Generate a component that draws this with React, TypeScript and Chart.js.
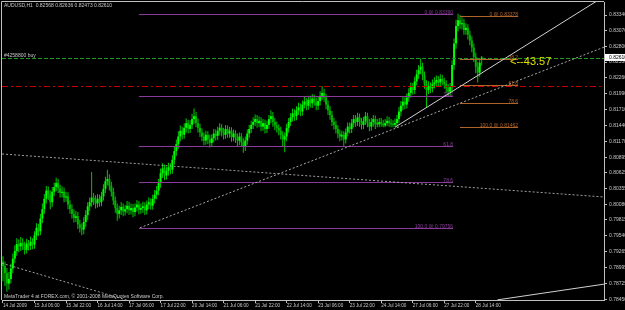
import { useEffect, useRef } from "react";
import { Chart, registerables } from "chart.js";

Chart.register(...registerables);

const FONT = "'Liberation Sans', 'DejaVu Sans', sans-serif";

// ---- data (AUDUSD H1) ----
const opens = [
  0.7910,0.7902,0.7890,0.7872,0.7880,0.7898,0.7915,0.7928,0.7940,0.7936,
  0.7942,0.7938,0.7930,0.7941,0.7937,0.7944,0.7939,0.7955,0.7968,0.7962,
  0.7984,0.8000,0.8018,0.8032,0.8025,0.8012,0.8030,0.8038,0.8045,0.8036,
  0.8028,0.8030,0.8020,0.8022,0.8008,0.8000,0.7992,0.7985,0.7988,0.7974,
  0.7968,0.7965,0.7978,0.7990,0.8005,0.8012,0.8020,0.8015,0.8010,0.8018,
  0.8012,0.8022,0.8035,0.8048,0.8052,0.8040,0.8030,0.8015,0.8002,0.7992,
  0.7998,0.8004,0.7996,0.8000,0.8006,0.7998,0.8002,0.7995,0.8003,0.8008,
  0.7999,0.8002,0.8005,0.7998,0.8008,0.8012,0.8006,0.8018,0.8025,0.8032,
  0.8045,0.8062,0.8070,0.8058,0.8066,0.8072,0.8068,0.8085,0.8100,0.8112,
  0.8125,0.8135,0.8128,0.8140,0.8148,0.8138,0.8145,0.8155,0.8160,0.8148,
  0.8140,0.8132,0.8125,0.8118,0.8128,0.8120,0.8114,0.8122,0.8130,0.8126,
  0.8135,0.8140,0.8132,0.8128,0.8138,0.8130,0.8135,0.8124,0.8130,0.8122,
  0.8118,0.8125,0.8115,0.8108,0.8118,0.8130,0.8138,0.8145,0.8150,0.8155,
  0.8148,0.8152,0.8142,0.8148,0.8138,0.8145,0.8155,0.8160,0.8150,0.8144,
  0.8140,0.8135,0.8128,0.8120,0.8125,0.8140,0.8150,0.8158,0.8165,0.8160,
  0.8170,0.8175,0.8168,0.8180,0.8185,0.8178,0.8188,0.8182,0.8190,0.8185,
  0.8178,0.8186,0.8195,0.8200,0.8192,0.8180,0.8170,0.8162,0.8150,0.8145,
  0.8138,0.8130,0.8125,0.8128,0.8120,0.8132,0.8142,0.8138,0.8148,0.8155,
  0.8150,0.8158,0.8150,0.8145,0.8152,0.8160,0.8148,0.8142,0.8150,0.8155,
  0.8146,0.8146,0.8150,0.8147,0.8144,0.8148,0.8152,0.8148,0.8146,0.8145,
  0.8148,0.8155,0.8168,0.8178,0.8185,0.8180,0.8192,0.8200,0.8210,0.8205,
  0.8220,0.8232,0.8240,0.8245,0.8230,0.8215,0.8205,0.8212,0.8208,0.8215,
  0.8218,0.8222,0.8218,0.8224,0.8220,0.8215,0.8208,0.8202,0.8210,0.8248,
  0.8285,0.8315,0.8325,0.8318,0.8320,0.8308,0.8312,0.8300,0.8290,0.8278,
  0.8262,0.8245,0.8235,0.82568,
];
const highs = [
  0.7919,0.7910,0.7899,0.7892,0.7906,0.7924,0.7938,0.7950,0.7948,0.7952,
  0.7950,0.7944,0.7949,0.7947,0.7953,0.7950,0.7962,0.7976,0.7975,0.7992,
  0.8010,0.8026,0.8040,0.8039,0.8032,0.8038,0.8046,0.8054,0.8052,0.8042,
  0.8039,0.8037,0.8030,0.8029,0.8015,0.8008,0.8000,0.7997,0.7995,0.7982,
  0.7976,0.7986,0.7998,0.8012,0.8020,0.8064,0.8028,0.8024,0.8026,0.8025,
  0.8030,0.8043,0.8056,0.8068,0.8060,0.8047,0.8037,0.8022,0.8010,0.8006,
  0.8012,0.8010,0.8007,0.8014,0.8013,0.8010,0.8009,0.8010,0.8016,0.8014,
  0.8010,0.8013,0.8012,0.8015,0.8020,0.8019,0.8025,0.8033,0.8040,0.8052,
  0.8070,0.8079,0.8077,0.8073,0.8080,0.8079,0.8093,0.8108,0.8120,0.8134,
  0.8144,0.8142,0.8148,0.8156,0.8154,0.8153,0.8164,0.8173,0.8167,0.8156,
  0.8147,0.8139,0.8132,0.8135,0.8134,0.8128,0.8129,0.8138,0.8137,0.8142,
  0.8148,0.8146,0.8140,0.8145,0.8144,0.8142,0.8141,0.8137,0.8136,0.8130,
  0.8132,0.8131,0.8122,0.8125,0.8137,0.8145,0.8152,0.8158,0.8163,0.8162,
  0.8160,0.8158,0.8155,0.8154,0.8152,0.8162,0.8170,0.8167,0.8157,0.8151,
  0.8146,0.8142,0.8134,0.8132,0.8147,0.8157,0.8165,0.8173,0.8172,0.8177,
  0.8183,0.8182,0.8187,0.8193,0.8191,0.8195,0.8195,0.8198,0.8197,0.8192,
  0.8193,0.8203,0.8212,0.8207,0.8198,0.8187,0.8177,0.8169,0.8157,0.8152,
  0.8144,0.8137,0.8135,0.8134,0.8139,0.8149,0.8149,0.8155,0.8162,0.8162,
  0.8166,0.8164,0.8157,0.8159,0.8167,0.8166,0.8155,0.8157,0.8162,0.8161,
  0.8155,0.8157,0.8157,0.8154,0.8155,0.8160,0.8159,0.8155,0.8153,0.8156,
  0.8162,0.8176,0.8186,0.8193,0.8192,0.8199,0.8208,0.8218,0.8217,0.8228,
  0.8240,0.8248,0.8259,0.8252,0.8237,0.8222,0.8220,0.8218,0.8223,0.8227,
  0.8230,0.8229,0.8232,0.8231,0.8226,0.8222,0.8215,0.8217,0.8256,0.8294,
  0.8326,0.8336,0.8334,0.8330,0.8327,0.8320,0.8318,0.8307,0.8297,0.8285,
  0.8269,0.8253,0.8259,0.82636,
];
const lows = [
  0.7876,0.7868,0.7858,0.7862,0.7872,0.7890,0.7907,0.7920,0.7926,0.7928,
  0.7930,0.7922,0.7924,0.7929,0.7930,0.7931,0.7932,0.7947,0.7954,0.7955,
  0.7976,0.7992,0.8010,0.8016,0.8000,0.8004,0.8023,0.8031,0.8028,0.8020,
  0.8020,0.8012,0.8013,0.8000,0.7992,0.7984,0.7977,0.7978,0.7966,0.7960,
  0.7955,0.7957,0.7970,0.7982,0.7997,0.8004,0.8007,0.8001,0.8003,0.8004,
  0.8005,0.8015,0.8028,0.8041,0.8032,0.8022,0.8007,0.7994,0.7980,0.7984,
  0.7990,0.7988,0.7989,0.7993,0.7990,0.7991,0.7986,0.7988,0.7996,0.7991,
  0.7992,0.7994,0.7990,0.7991,0.8000,0.7999,0.7999,0.8010,0.8017,0.8024,
  0.8037,0.8054,0.8050,0.8051,0.8058,0.8060,0.8061,0.8077,0.8092,0.8104,
  0.8117,0.8120,0.8121,0.8132,0.8130,0.8131,0.8138,0.8147,0.8141,0.8132,
  0.8124,0.8117,0.8110,0.8111,0.8112,0.8106,0.8107,0.8115,0.8118,0.8119,
  0.8127,0.8125,0.8120,0.8121,0.8123,0.8123,0.8116,0.8117,0.8114,0.8108,
  0.8110,0.8107,0.8097,0.8100,0.8111,0.8123,0.8131,0.8138,0.8143,0.8140,
  0.8141,0.8134,0.8135,0.8130,0.8131,0.8138,0.8148,0.8142,0.8136,0.8132,
  0.8127,0.8120,0.8108,0.8098,0.8117,0.8132,0.8143,0.8151,0.8152,0.8153,
  0.8162,0.8160,0.8161,0.8173,0.8170,0.8171,0.8175,0.8174,0.8178,0.8170,
  0.8171,0.8179,0.8188,0.8185,0.8172,0.8162,0.8154,0.8143,0.8137,0.8130,
  0.8122,0.8117,0.8118,0.8108,0.8113,0.8125,0.8130,0.8131,0.8141,0.8142,
  0.8143,0.8142,0.8137,0.8138,0.8145,0.8141,0.8134,0.8135,0.8142,0.8138,
  0.8141,0.8141,0.8142,0.8141,0.8141,0.8143,0.8142,0.8141,0.8141,0.8141,
  0.8141,0.8148,0.8160,0.8170,0.8172,0.8173,0.8185,0.8192,0.8197,0.8198,
  0.8213,0.8224,0.8232,0.8222,0.8207,0.8176,0.8198,0.8200,0.8201,0.8208,
  0.8210,0.8211,0.8211,0.8213,0.8207,0.8200,0.8194,0.8195,0.8202,0.8240,
  0.8276,0.8306,0.8310,0.8309,0.8300,0.8300,0.8292,0.8282,0.8270,0.8253,
  0.8234,0.8218,0.8228,0.82473,
];
const closes = [
  0.7902,0.7890,0.7872,0.7880,0.7898,0.7915,0.7928,0.7940,0.7936,0.7942,
  0.7938,0.7930,0.7941,0.7937,0.7944,0.7939,0.7955,0.7968,0.7962,0.7984,
  0.8000,0.8018,0.8032,0.8025,0.8012,0.8030,0.8038,0.8045,0.8036,0.8028,
  0.8030,0.8020,0.8022,0.8008,0.8000,0.7992,0.7985,0.7988,0.7974,0.7968,
  0.7965,0.7978,0.7990,0.8005,0.8012,0.8020,0.8015,0.8010,0.8018,0.8012,
  0.8022,0.8035,0.8048,0.8052,0.8040,0.8030,0.8015,0.8002,0.7992,0.7998,
  0.8004,0.7996,0.8000,0.8006,0.7998,0.8002,0.7995,0.8003,0.8008,0.7999,
  0.8002,0.8005,0.7998,0.8008,0.8012,0.8006,0.8018,0.8025,0.8032,0.8045,
  0.8062,0.8070,0.8058,0.8066,0.8072,0.8068,0.8085,0.8100,0.8112,0.8125,
  0.8135,0.8128,0.8140,0.8148,0.8138,0.8145,0.8155,0.8160,0.8148,0.8140,
  0.8132,0.8125,0.8118,0.8128,0.8120,0.8114,0.8122,0.8130,0.8126,0.8135,
  0.8140,0.8132,0.8128,0.8138,0.8130,0.8135,0.8124,0.8130,0.8122,0.8118,
  0.8125,0.8115,0.8108,0.8118,0.8130,0.8138,0.8145,0.8150,0.8155,0.8148,
  0.8152,0.8142,0.8148,0.8138,0.8145,0.8155,0.8160,0.8150,0.8144,0.8140,
  0.8135,0.8128,0.8120,0.8125,0.8140,0.8150,0.8158,0.8165,0.8160,0.8170,
  0.8175,0.8168,0.8180,0.8185,0.8178,0.8188,0.8182,0.8190,0.8185,0.8178,
  0.8186,0.8195,0.8200,0.8192,0.8180,0.8170,0.8162,0.8150,0.8145,0.8138,
  0.8130,0.8125,0.8128,0.8120,0.8132,0.8142,0.8138,0.8148,0.8155,0.8150,
  0.8158,0.8150,0.8145,0.8152,0.8160,0.8148,0.8142,0.8150,0.8155,0.8146,
  0.8146,0.8150,0.8147,0.8144,0.8148,0.8152,0.8148,0.8146,0.8145,0.8148,
  0.8155,0.8168,0.8178,0.8185,0.8180,0.8192,0.8200,0.8210,0.8205,0.8220,
  0.8232,0.8240,0.8245,0.8230,0.8215,0.8205,0.8212,0.8208,0.8215,0.8218,
  0.8222,0.8218,0.8224,0.8220,0.8215,0.8208,0.8202,0.8210,0.8248,0.8285,
  0.8315,0.8325,0.8318,0.8320,0.8308,0.8312,0.8300,0.8290,0.8278,0.8262,
  0.8245,0.8235,0.8252,0.82610,
];

const timeTickBars = [0, 16, 32, 48, 64, 80, 96, 112, 128, 144, 160, 176, 192, 208, 224, 240];
const timeTickLabels = [
  "14 Jul 2009", "15 Jul 06:00", "15 Jul 22:00", "16 Jul 14:00", "17 Jul 06:00", "17 Jul 22:00",
  "20 Jul 14:00", "21 Jul 06:00", "21 Jul 22:00", "22 Jul 14:00", "23 Jul 06:00", "23 Jul 22:00",
  "24 Jul 14:00", "27 Jul 06:00", "27 Jul 22:00", "28 Jul 14:00",
];
const priceTicks = [
  0.8334, 0.8307, 0.828, 0.8253, 0.8226, 0.8199, 0.8171, 0.8144, 0.8117, 0.80895,
  0.80625, 0.80355, 0.8008, 0.79815, 0.7954, 0.79265, 0.78995, 0.78725, 0.7845,
];

const priceMin = 0.78438;
const priceMax = 0.83564;
const barMin = -0.5;
const barMax = 305.1;

// horizontal order / stop lines
const orderPrice = 0.826;
const orderLabel = "#4258800 buy";
const stopPrice = 0.82119;

// fibonacci retracements
const fibLevels = [0, 0.382, 0.618, 0.786, 1];
const fibStartBars = [69, 232];
const fibEndBars = [228.5, 261.5];
const fibHighPrices = [0.8336, 0.8332];
const fibLowPrices = [0.7968, 0.8141];
const fibLabels = [
  ["0 @ 0.83390", "38.2", "61.8", "78.6", "100.0 @ 0.79756"],
  ["0 @ 0.83378", "38.2", "61.8", "78.6", "100.0 @ 0.81462"],
];

// trend lines (rays)
const trendStartBars = [199, 69.5, -0.5, -0.5, 251];
const trendStartPrices = [0.8141, 0.7968, 0.8095, 0.7907, 0.7844];
const trendEndBars = [300, 300, 305, 64.5, 305];
const trendEndPrices = [0.8355, 0.8272, 0.8021, 0.7842, 0.7871];

// text object
const noteText = "<--43.57";
const noteBar = 257.4;
const noteValue = 0.8253;

const headerText = "AUDUSD,H1  0.82568 0.82636 0.82473 0.82610";
const footerText = "MetaTrader 4 at FOREX.com, \u00a9 2001-2008 MetaQuotes Software Corp.";

// ---- styles ----
const BULL = "#00ff00";
const BEAR = "#00b400";
const WICK = "#00c800";
const AXIS = "#c0c0c0";
const TEXT = "#c8c8c8";
const FIB_COLORS = ["#8a3a9a", "#b0642a"];
const TREND_COLORS = ["#d0d0d0", "#a8a8a8", "#a0a0a0", "#a0a0a0", "#d0d0d0"];
const TREND_DASH = [[], [2, 2], [2, 2], [2, 2], []];

const overlay = {
  id: "mt4overlay",
  beforeDraw(chart: any) {
    const { ctx, width, height } = chart;
    ctx.save();
    ctx.fillStyle = "#000";
    ctx.fillRect(0, 0, width, height);
    ctx.restore();
  },
  afterDatasetsDraw(chart: any) {
    const { ctx, chartArea: a } = chart;
    const xs = chart.scales.x;
    const ys = chart.scales.y;
    const X = (v: number) => xs.getPixelForValue(v);
    const Y = (v: number) => ys.getPixelForValue(v);

    // frame (left/top)
    ctx.save();
    ctx.strokeStyle = AXIS;
    ctx.lineWidth = 1;
    ctx.beginPath();
    ctx.moveTo(a.left - 0.5, a.bottom);
    ctx.lineTo(a.left - 0.5, a.top - 0.5);
    ctx.lineTo(a.right, a.top - 0.5);
    ctx.stroke();
    ctx.restore();

    ctx.save();
    ctx.beginPath();
    ctx.rect(a.left, a.top, a.right - a.left, a.bottom - a.top + 2);
    ctx.clip();
    ctx.lineWidth = 1;

    const hline = (p: number, color: string, dash: number[]) => {
      const yy = Math.round(Y(p)) + 0.5;
      ctx.strokeStyle = color;
      ctx.setLineDash(dash);
      ctx.beginPath();
      ctx.moveTo(a.left, yy);
      ctx.lineTo(a.right, yy);
      ctx.stroke();
    };
    hline(orderPrice, "#1e9a1e", [4, 2]);
    hline(stopPrice, "#c80000", [6, 3, 2, 3]);

    // fibonacci
    ctx.setLineDash([]);
    ctx.font = `5px ${FONT}`;
    ctx.textAlign = "right";
    ctx.textBaseline = "alphabetic";
    fibStartBars.forEach((sb, f) => {
      const x1 = X(sb);
      const x2 = X(fibEndBars[f]);
      fibLevels.forEach((lv, k) => {
        const p = fibHighPrices[f] - (fibHighPrices[f] - fibLowPrices[f]) * lv;
        const yy = Math.round(Y(p)) + 0.5;
        ctx.strokeStyle = FIB_COLORS[f];
        ctx.beginPath();
        ctx.moveTo(x1, yy);
        ctx.lineTo(x2, yy);
        ctx.stroke();
        ctx.fillStyle = FIB_COLORS[f];
        ctx.fillText(fibLabels[f][k], x2, yy - 1);
      });
    });

    // trend lines
    trendStartBars.forEach((sb, t) => {
      const px1 = X(sb);
      const py1 = Y(trendStartPrices[t]);
      const px2 = X(trendEndBars[t]);
      const py2 = Y(trendEndPrices[t]);
      const xr = a.right + 10;
      const yr = py1 + ((py2 - py1) / (px2 - px1)) * (xr - px1);
      ctx.strokeStyle = TREND_COLORS[t];
      ctx.setLineDash(TREND_DASH[t]);
      ctx.beginPath();
      ctx.moveTo(px1, py1);
      ctx.lineTo(xr, yr);
      ctx.stroke();
    });
    ctx.setLineDash([]);

    // text object
    ctx.font = `11px ${FONT}`;
    ctx.fillStyle = "#e0e000";
    ctx.textAlign = "left";
    ctx.textBaseline = "middle";
    ctx.fillText(noteText, X(noteBar), Y(noteValue));
    ctx.restore();

    // labels
    ctx.save();
    ctx.font = `5px ${FONT}`;
    ctx.fillStyle = TEXT;
    ctx.textAlign = "left";
    ctx.textBaseline = "middle";
    ctx.fillText(headerText, 4, 6);
    ctx.fillText(footerText, 4, 297);
    ctx.textBaseline = "alphabetic";
    ctx.fillText(orderLabel, 4, Math.round(Y(orderPrice)) - 1);
    ctx.restore();
  },
  afterDraw(chart: any) {
    const { ctx, chartArea: a } = chart;
    const ys = chart.scales.y;
    const last = closes[closes.length - 1];
    const yy = ys.getPixelForValue(last);
    ctx.save();
    ctx.fillStyle = "#ffffff";
    ctx.fillRect(a.right + 1, yy - 3.5, 30, 7);
    ctx.fillStyle = "#000";
    ctx.font = `5px ${FONT}`;
    ctx.textAlign = "left";
    ctx.textBaseline = "middle";
    ctx.fillText(last.toFixed(5), a.right + 5, yy);
    ctx.restore();
  },
};

export default function App() {
  const ref = useRef<HTMLCanvasElement>(null);
  useEffect(() => {
    document.body.style.margin = "0";
    document.body.style.background = "#000";
    const canvas = ref.current!;
    const barIdx = closes.map((_, i) => i);
    const chart = new Chart(canvas, {
      type: "bar",
      data: {
        datasets: [
          {
            data: barIdx.map((i) => ({ x: i, y: [lows[i], highs[i]] })) as any,
            backgroundColor: WICK,
            barThickness: 1,
            grouped: false,
            inflateAmount: 0,
            order: 2,
          } as any,
          {
            data: barIdx.map((i) => ({ x: i, y: [opens[i], closes[i]] })) as any,
            backgroundColor: barIdx.map((i) => (closes[i] >= opens[i] ? BULL : BEAR)),
            barThickness: 2,
            minBarLength: 1,
            grouped: false,
            inflateAmount: 0,
            order: 1,
          } as any,
        ],
      },
      options: {
        responsive: false,
        animation: false,
        devicePixelRatio: 1,
        events: [],
        layout: { padding: { left: 2, top: 2, right: 0, bottom: 0 } },
        plugins: {
          legend: { display: false },
          tooltip: { enabled: false },
          title: { display: false },
        },
        scales: {
          x: {
            type: "linear",
            position: "bottom",
            min: barMin,
            max: barMax,
            offset: false,
            grid: { drawOnChartArea: false, offset: false, tickLength: 3, color: AXIS, lineWidth: 1 },
            border: { color: AXIS, width: 1 },
            ticks: {
              autoSkip: false,
              maxRotation: 0,
              minRotation: 0,
              align: "start",
              padding: 0,
              color: TEXT,
              font: { family: FONT, size: 4.6 },
              callback: (v: any) => {
                const k = timeTickBars.indexOf(Number(v));
                return k >= 0 ? timeTickLabels[k] : "";
              },
            },
            afterBuildTicks: (s: any) => {
              s.ticks = timeTickBars.map((v) => ({ value: v }));
            },
            afterFit: (s: any) => {
              s.height = 10;
              s.paddingLeft = 0;
              s.paddingRight = 0;
            },
          },
          y: {
            type: "linear",
            position: "right",
            min: priceMin,
            max: priceMax,
            grid: { drawOnChartArea: false, tickLength: 3, color: AXIS, lineWidth: 1 },
            border: { color: AXIS, width: 1 },
            ticks: {
              autoSkip: false,
              padding: 2,
              color: TEXT,
              font: { family: FONT, size: 5 },
              callback: (v: any) => Number(v).toFixed(5),
            },
            afterBuildTicks: (s: any) => {
              s.ticks = priceTicks.map((v) => ({ value: v }));
            },
            afterFit: (s: any) => {
              s.width = 21;
              s.paddingTop = 0;
              s.paddingBottom = 0;
            },
          },
        },
      } as any,
      plugins: [overlay],
    });
    return () => chart.destroy();
  }, []);
  return (
    <div style={{ position: "fixed", left: 0, top: 0, width: 625, height: 310, background: "#000" }}>
      <canvas ref={ref} width={625} height={310} style={{ display: "block", width: 625, height: 310 }} />
    </div>
  );
}
